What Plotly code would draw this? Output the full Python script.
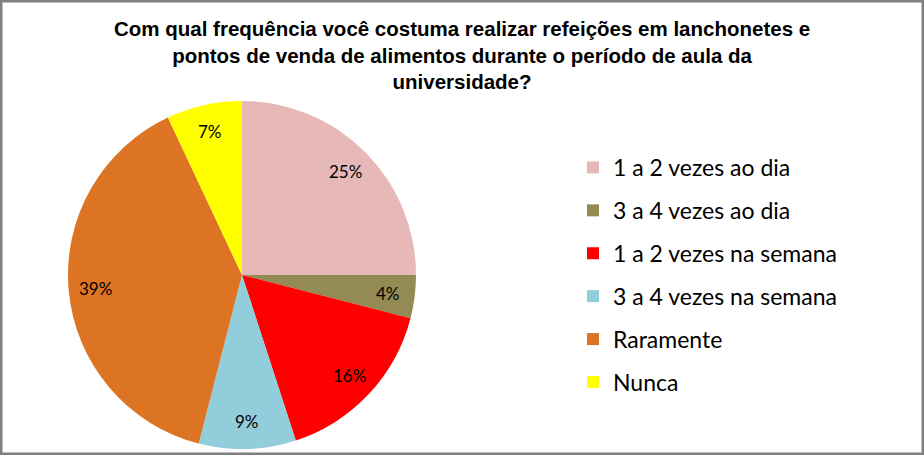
import math
import plotly.graph_objects as go

categories = ["1 a 2 vezes ao dia", "3 a 4 vezes ao dia", "1 a 2 vezes na semana",
              "3 a 4 vezes na semana", "Raramente", "Nunca"]
percentages = [25, 4, 16, 9, 39, 7]
colors = ["#E6B9B8", "#948A54", "#FF0000", "#92CDDC", "#DC7424", "#FFFF00"]
title_text = ("<b>Com qual frequência você costuma realizar refeições em lanchonetes e<br>"
              "pontos de venda de alimentos durante o período de aula da<br>universidade?</b>")

W, H = 924, 455
# pie placement (pixels)
cx_px, cy_px, r_px = 242, 275, 174
dom_x = [(cx_px - r_px) / W, (cx_px + r_px) / W]
dom_y = [(H - (cy_px + r_px)) / H, (H - (cy_px - r_px)) / H]

fig = go.Figure()
fig.add_trace(go.Pie(
    labels=categories, values=percentages, sort=False, direction="clockwise",
    rotation=0, marker=dict(colors=colors, line=dict(width=0)),
    textinfo="none", showlegend=False, domain=dict(x=dom_x, y=dom_y),
    hoverinfo="label+percent",
))

# legend entries via dummy traces (one group each for spacing)
for i, (c, col) in enumerate(zip(categories, colors)):
    fig.add_trace(go.Scatter(
        x=[None], y=[None], mode="markers", name=c,
        marker=dict(symbol="square", size=12, color=col),
        legendgroup=str(i), showlegend=True,
    ))

# percentage labels near the inside end of each slice
total = sum(percentages)
cum = 0
for v in percentages:
    mid = (cum + v / 2) / total * 2 * math.pi
    cum += v
    rr = 0.845 * r_px
    lx = cx_px + rr * math.sin(mid)
    ly = cy_px - rr * math.cos(mid)
    fig.add_annotation(
        x=lx / W, y=1 - ly / H, xref="paper", yref="paper",
        text=f"{round(v / total * 100)}%", showarrow=False,
        font=dict(family="Lato", size=17, color="#000000"),
        xanchor="center", yanchor="middle",
    )

fig.add_annotation(
    x=0.5, y=1 - 15 / H, xref="paper", yref="paper", text=title_text,
    showarrow=False, xanchor="center", yanchor="top", align="center",
    font=dict(family="Liberation Sans", size=20.5, color="#000000"),
)

fig.add_shape(type="rect", xref="paper", yref="paper", x0=0, x1=1, y0=0, y1=1,
              line=dict(color="#808080", width=5), fillcolor="rgba(0,0,0,0)")

fig.update_layout(
    width=W, height=H, margin=dict(l=0, r=0, t=0, b=0),
    paper_bgcolor="white", plot_bgcolor="white",
    xaxis=dict(visible=False), yaxis=dict(visible=False),
    legend=dict(x=573 / W, y=1 - 146 / H, xanchor="left", yanchor="top",
                font=dict(family="Lato", size=23, color="#000000"),
                tracegroupgap=10, itemwidth=30, bgcolor="rgba(0,0,0,0)"),
)

fig.write_html("out.html", config={"displayModeBar": False},
               post_script="document.body.style.margin='0';")
